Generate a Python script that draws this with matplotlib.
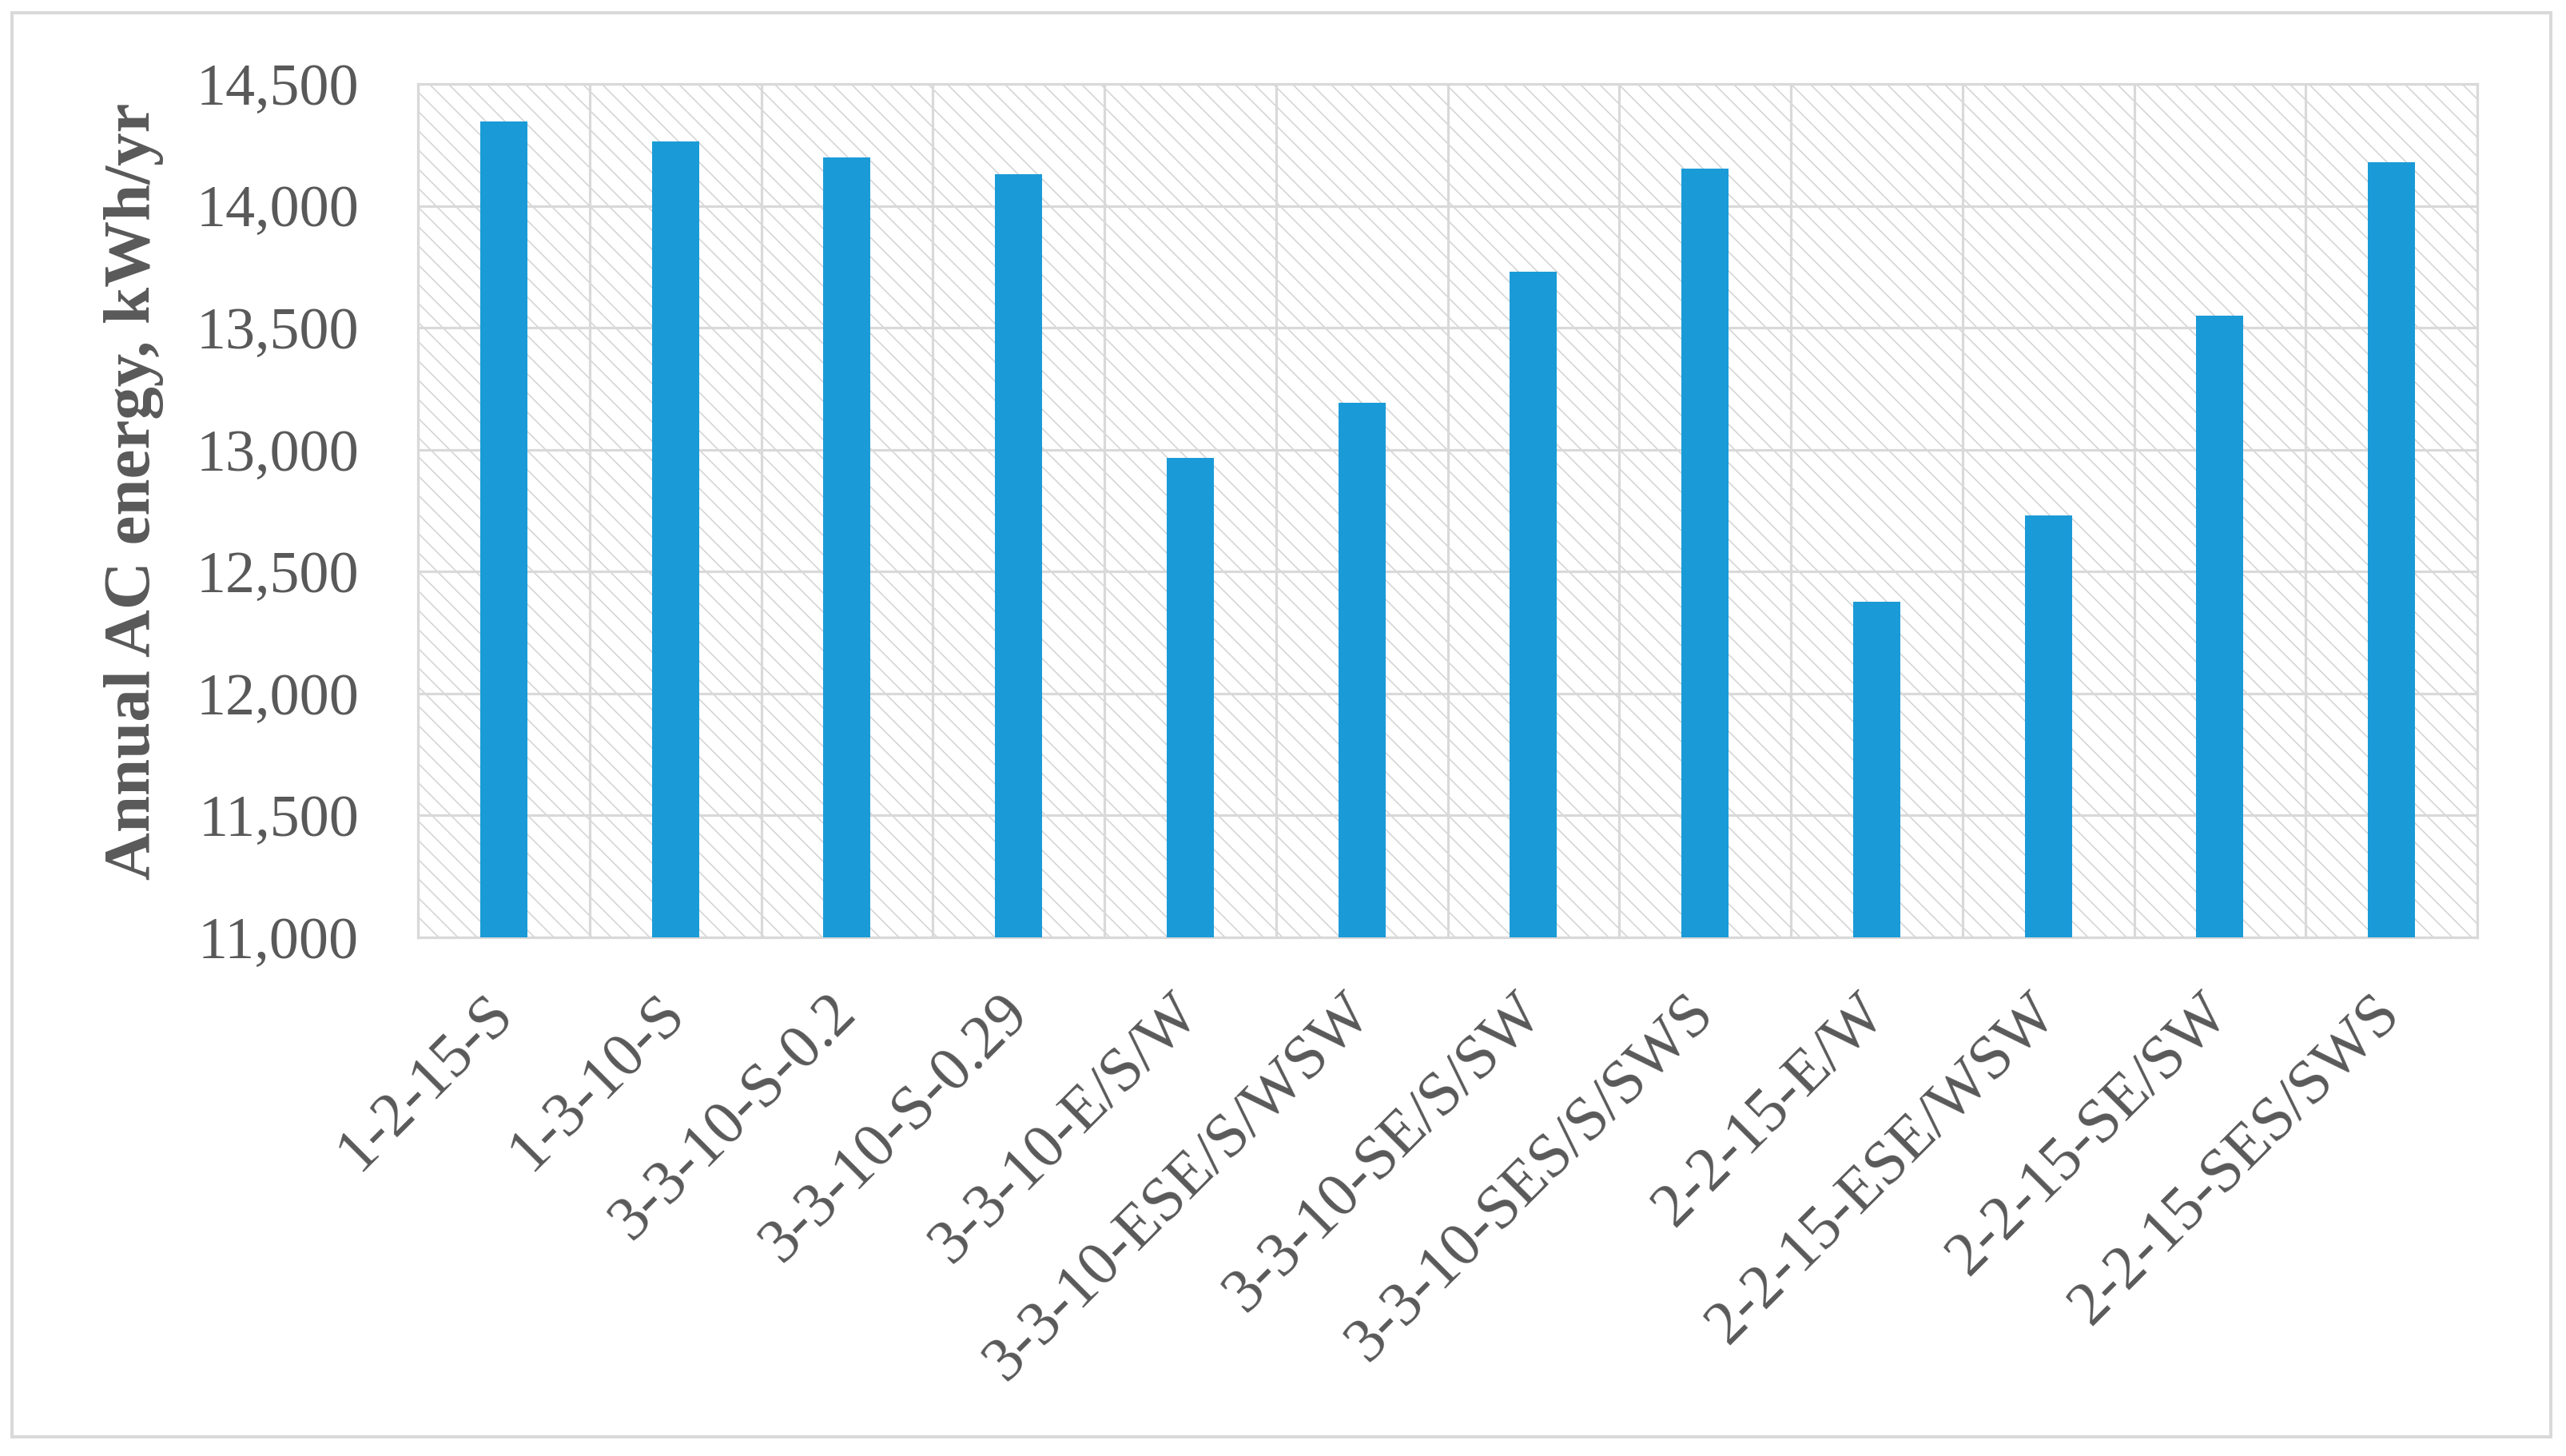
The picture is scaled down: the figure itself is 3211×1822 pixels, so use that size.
import matplotlib
matplotlib.use("Agg")
import matplotlib.pyplot as plt
import matplotlib.transforms as mtransforms
from matplotlib.ticker import FuncFormatter, MultipleLocator, FixedLocator
from matplotlib.patches import Rectangle
import numpy as np

# ---- data ----
categories = ["1-2-15-S", "1-3-10-S", "3-3-10-S-0.2", "3-3-10-S-0.29",
              "3-3-10-E/S/W", "3-3-10-ESE/S/WSW", "3-3-10-SE/S/SW",
              "3-3-10-SES/S/SWS", "2-2-15-E/W", "2-2-15-ESE/WSW",
              "2-2-15-SE/SW", "2-2-15-SES/SWS"]
energy = [14345, 14263, 14198, 14131, 12965, 13193, 13729,
          14151, 12375, 12731, 13548, 14178]
y_label = "Annual AC energy, kWh/yr"
y_min, y_max, y_step = 11000, 14500, 500

# ---- style ----
plt.rcParams["font.family"] = ["Liberation Serif", "DejaVu Serif"]
plt.rcParams["hatch.linewidth"] = 0.8
text_col = "#595959"
grid_col = "#d9d9d9"
bar_col = "#1a9bd7"

DPI = 144
fig = plt.figure(figsize=(3211 / DPI, 1822 / DPI), dpi=DPI)
ax = fig.add_axes([523 / 3211, 1 - 1173 / 1822, (3100 - 523) / 3211, (1173 - 105) / 1822])

# hatched background
ax.patch.set_facecolor("white")
bg = Rectangle((0, 0), 1, 1, transform=ax.transAxes, facecolor="white",
               edgecolor="#d4d4d4", hatch="\\\\", linewidth=0, zorder=0)
ax.add_patch(bg)

x = np.arange(len(categories))
ax.bar(x, energy, width=0.275, color=bar_col, zorder=3)

ax.set_xlim(-0.5, len(categories) - 0.5)
ax.set_ylim(y_min, y_max)
ax.yaxis.set_major_locator(MultipleLocator(y_step))
ax.yaxis.set_major_formatter(FuncFormatter(lambda v, p: f"{int(v):,}"))

ax.set_xticks(x)
ax.set_xticklabels(categories, rotation=45, ha="right", va="center",
                   rotation_mode="anchor", fontsize=39, color=text_col)
shift = mtransforms.ScaledTranslation(6 / 72, 0, fig.dpi_scale_trans)
for lbl in ax.get_xticklabels():
    lbl.set_transform(lbl.get_transform() + shift)
ax.xaxis.set_minor_locator(FixedLocator(np.arange(-0.5, len(categories), 1.0)))
ax.tick_params(axis="x", which="both", length=0, pad=42)
ax.tick_params(axis="y", length=0, pad=37, labelsize=37, labelcolor=text_col)

ax.grid(axis="y", which="major", color=grid_col, linewidth=1.6, zorder=1)
ax.grid(axis="x", which="minor", color=grid_col, linewidth=1.6, zorder=1)
ax.grid(axis="x", which="major", visible=False)
ax.set_axisbelow(True)
for s in ax.spines.values():
    s.set_color(grid_col)
    s.set_linewidth(1.6)

ax.set_ylabel(y_label, fontsize=41.5, fontweight="bold", color=text_col)
ax.yaxis.set_label_coords((205 - 523) / 2577, 0.523)

# outer border of the figure
fig.patches.append(Rectangle((15 / 3211, 1 - 1798 / 1822), (3192 - 15) / 3211,
                             (1798 - 16) / 1822, transform=fig.transFigure,
                             fill=False, edgecolor=grid_col, linewidth=2))

fig.savefig("out.png", dpi=DPI, facecolor="white")
